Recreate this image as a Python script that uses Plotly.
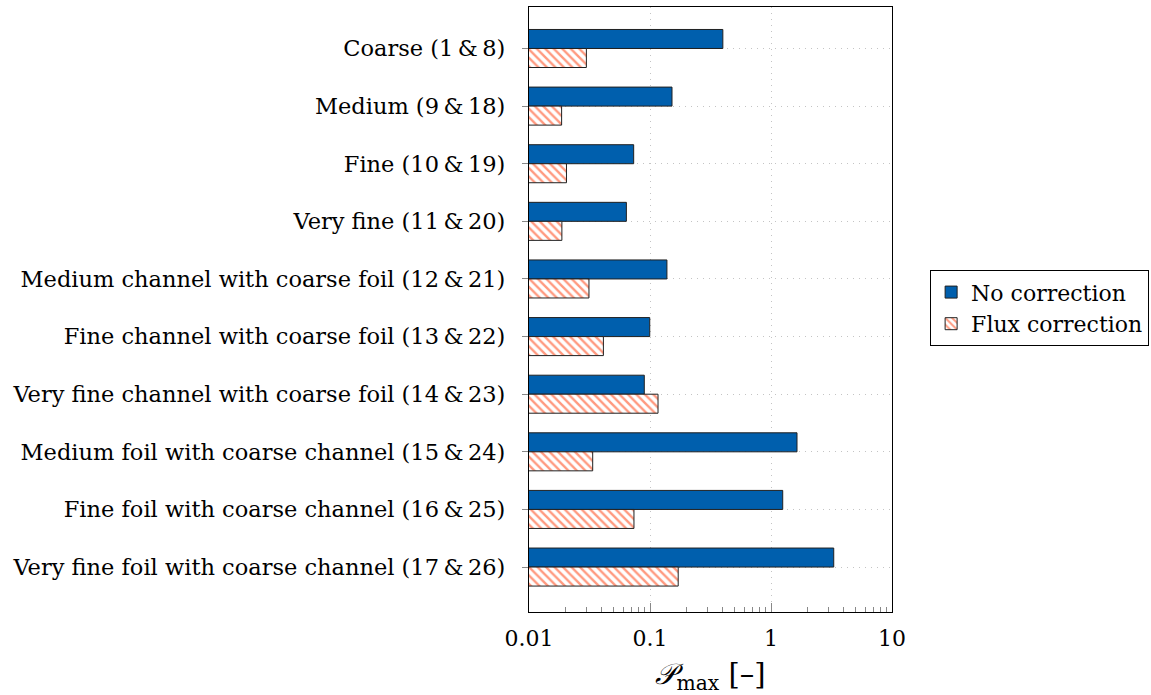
import plotly.graph_objects as go

# Mesh-refinement cases (test numbers: uncorrected & flux-corrected)
categories = [
    "Coarse (1\u2009&\u20098)",
    "Medium (9\u2009&\u200918)",
    "Fine (10\u2009&\u200919)",
    "Very fine (11\u2009&\u200920)",
    "Medium channel with coarse foil (12\u2009&\u200921)",
    "Fine channel with coarse foil (13\u2009&\u200922)",
    "Very fine channel with coarse foil (14\u2009&\u200923)",
    "Medium foil with coarse channel (15\u2009&\u200924)",
    "Fine foil with coarse channel (16\u2009&\u200925)",
    "Very fine foil with coarse channel (17\u2009&\u200926)",
]
no_correction = [0.40, 0.152, 0.0733, 0.0638, 0.138, 0.0995, 0.0897, 1.64, 1.25, 3.30]
flux_correction = [0.0298, 0.0186, 0.0204, 0.0187, 0.0313, 0.0412, 0.1165, 0.0336, 0.0737, 0.171]

x_tick_vals = [0.01, 0.1, 1, 10]
x_tick_text = ["0.01", "0.1", "1", "10"]

FONT = "DejaVu Serif"
positions = list(range(len(categories)))

fig = go.Figure()
fig.add_trace(go.Bar(
    name="No correction", orientation="h",
    y=positions, x=no_correction,
    marker=dict(color="#005fad", line=dict(color="#202020", width=1)),
))
fig.add_trace(go.Bar(
    name="Flux correction", orientation="h",
    y=positions, x=flux_correction,
    marker=dict(
        color="white",
        line=dict(color="#202020", width=1),
        pattern=dict(shape="\\", fgcolor="#ff3300", bgcolor="white", size=6, solidity=0.4),
    ),
))

fig.update_layout(
    width=1151, height=695,
    margin=dict(l=529, r=259, t=7, b=83, autoexpand=False),
    paper_bgcolor="white", plot_bgcolor="white",
    barmode="group", bargap=0.34, bargroupgap=0,
    font=dict(family=FONT, size=22, color="black"),
    legend=dict(
        x=1.105, y=0.502, xanchor="left", yanchor="middle",
        bordercolor="black", borderwidth=1, bgcolor="white",
        font=dict(family=FONT, size=22), tracegroupgap=0,
        itemwidth=30,
    ),
    showlegend=True,
)

fig.update_xaxes(
    type="log", range=[-2, 1], automargin=False,
    tickvals=x_tick_vals, ticktext=x_tick_text,
    ticks="inside", ticklen=9, tickcolor="#888888", tickwidth=1,
    ticklabelstandoff=6,
    minor=dict(dtick="D1", ticks="inside", ticklen=5, tickcolor="#888888", showgrid=False),
    showgrid=True, gridcolor="#c4c4c4", griddash="1px,5px", gridwidth=1,
    showline=True, linecolor="black", linewidth=1.2, mirror=True,
    tickfont=dict(family=FONT, size=22),
    title=dict(text="<i>\U0001D4AB</i><sub>max</sub> [\u2013]", font=dict(family=FONT, size=29), standoff=14),
    zeroline=False,
)
fig.update_yaxes(
    tickmode="array", tickvals=positions, ticktext=categories,
    range=[9.78, -0.72], automargin=False,
    ticks="outside", ticklen=6, tickcolor="#888888", tickwidth=1,
    ticklabelstandoff=12,
    showgrid=True, gridcolor="#c4c4c4", griddash="1px,5px", gridwidth=1,
    showline=True, linecolor="black", linewidth=1.2, mirror=True,
    tickfont=dict(family=FONT, size=22.5),
    zeroline=False,
)

fig.write_html("out.html")
